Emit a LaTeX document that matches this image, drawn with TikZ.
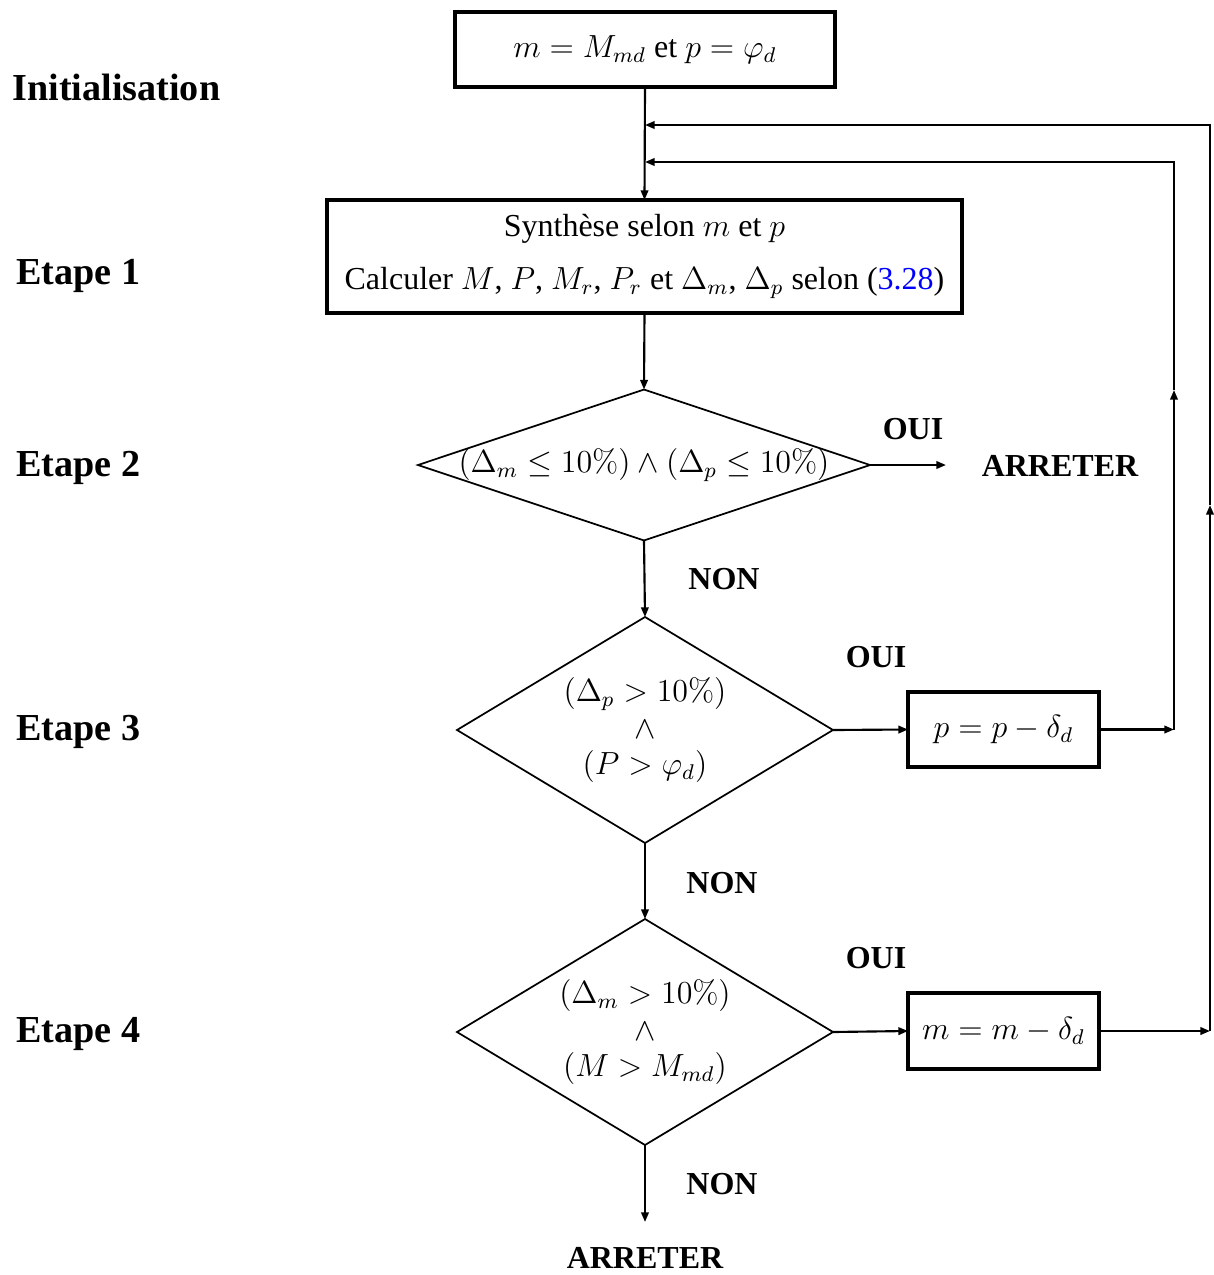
\documentclass[tikz,border=0pt]{standalone}
\usepackage[no-math]{fontspec}
\setmainfont{Liberation Serif}
\usetikzlibrary{shapes.geometric,arrows.meta}
\begin{document}
\begin{tikzpicture}[x=0.375pt,y=-0.375pt,
  font=\fontsize{12}{14.5}\selectfont,
  box/.style={draw,line width=1.3pt,rectangle,inner sep=0pt,outer sep=0pt},
  cond/.style={draw,line width=0.65pt,diamond,inner sep=0pt,outer sep=0pt},
  condtext/.style={align=center,inner sep=0pt,font=\fontsize{12}{13.7}\selectfont},
  lbl/.style={font=\fontsize{12}{14.5}\selectfont\bfseries,inner sep=0pt,anchor=base},
  steplabel/.style={font=\fontsize{14.3}{17}\selectfont\bfseries,inner sep=0pt,anchor=base west},
  conn/.style={line width=0.8pt},
  arr/.style={conn,-{Triangle[length=3.6pt,width=2.8pt]}},
]
\useasboundingbox (0,0) rectangle (1213,1275);

% step labels
\node[steplabel] (linit) at (12,100) {Initialisation};
\node[steplabel] (l1) at (16,284) {Etape 1};
\node[steplabel] (l2) at (16,476) {Etape 2};
\node[steplabel] (l3) at (16,740) {Etape 3};
\node[steplabel] (l4) at (16,1042) {Etape 4};

% boxes
\node[box,minimum width=142.5pt,minimum height=28.1pt] (init) at (645,49.5)
  {$m = M_{md}$ et $p = \varphi_d$};
\node[box,minimum width=238.1pt,minimum height=42.4pt,align=center,
      font=\fontsize{12}{20}\selectfont] (synth) at (644.5,256.5)
  {Synthèse selon $m$ et $p$\\Calculer $M$, $P$, $M_r$, $P_r$ et $\Delta_m$, $\Delta_p$ selon ({\color{blue}3.28})};

% decisions
\node[cond,minimum width=169.5pt,minimum height=56.6pt] (d1) at (644,465) {};
\node[condtext] (t1) at (d1.center) {$(\Delta_m \leq 10\%) \wedge (\Delta_p \leq 10\%)$};
\node[cond,minimum width=141pt,minimum height=84.75pt] (d2) at (645,730) {};
\node[condtext] (t2) at (d2.center) {$(\Delta_p > 10\%)$\\$\wedge$\\$(P > \varphi_d)$};
\node[cond,minimum width=141pt,minimum height=84.75pt] (d3) at (645,1032) {};
\node[condtext] (t3) at (d3.center) {$(\Delta_m > 10\%)$\\$\wedge$\\$(M > M_{md})$};

% update boxes
\node[box,minimum width=71.6pt,minimum height=28.1pt] (pbox) at (1003.5,729.5) {$p = p - \delta_d$};
\node[box,minimum width=71.6pt,minimum height=28.5pt] (mbox) at (1003.5,1031) {$m = m - \delta_d$};

% labels
\node[lbl] (oui1) at (913,439) {OUI};
\node[lbl] (stop1) at (1060,476) {ARRETER};
\node[lbl] (non1) at (724,589) {NON};
\node[lbl] (oui2) at (876,667) {OUI};
\node[lbl] (non2) at (722,893) {NON};
\node[lbl] (oui3) at (876,968) {OUI};
\node[lbl] (non3) at (722,1194) {NON};
\node[lbl] (stop2) at (645,1268) {ARRETER};

% coordinates for loops
\coordinate (j1) at (645,125);
\coordinate (j2) at (645,162);
\coordinate (pc) at (1174,729.5);
\coordinate (pm) at (1174,390);
\coordinate (pt) at (1174,162);
\coordinate (mc) at (1210,1031);
\coordinate (mm) at (1210,505);
\coordinate (mt) at (1210,125);
\coordinate (e1) at (946,465);
\coordinate (e2) at (645,1222);

% connectors
\draw[arr] (init.south) -- (synth.north);
\draw[arr] (synth.south) -- (d1.north);
\draw[arr] (d1.east) -- (e1);
\draw[arr] (d1.south) -- (d2.north);
\draw[arr] (d2.east) -- (pbox.west);
\draw[arr] (d2.south) -- (d3.north);
\draw[arr] (d3.east) -- (mbox.west);
\draw[arr] (d3.south) -- (e2);

\draw[arr] (pbox.east) -- (pc);
\draw[arr] (pc) -- (pm);
\draw[arr] (pm) -- (pt) -- (j2);

\draw[arr] (mbox.east) -- (mc);
\draw[arr] (mc) -- (mm);
\draw[arr] (mm) -- (mt) -- (j1);
\end{tikzpicture}
\end{document}
